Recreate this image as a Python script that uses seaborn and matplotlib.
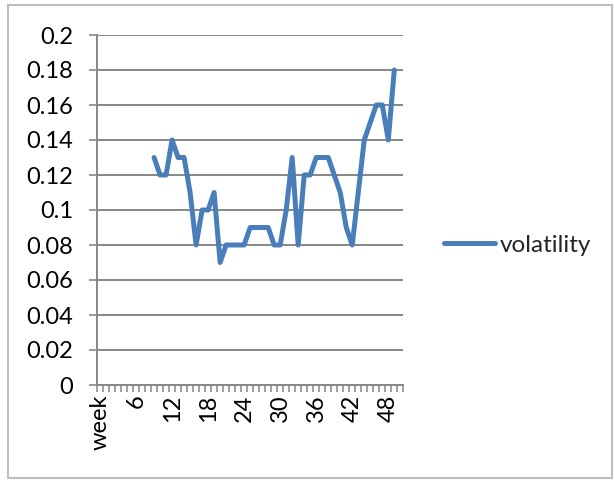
import numpy as np
import pandas as pd
import matplotlib
matplotlib.use("Agg")
import matplotlib.pyplot as plt
from matplotlib.patches import Rectangle
import seaborn as sns

# Category axis: header cell followed by week numbers 1..50
categories = ["week"] + [str(i) for i in range(1, 51)]

# Weekly volatility readings
weeks = list(range(9, 50))
volatility = [0.13, 0.12, 0.12, 0.14, 0.13, 0.13, 0.11, 0.08, 0.10, 0.10,
              0.11, 0.07, 0.08, 0.08, 0.08, 0.08, 0.09, 0.09, 0.09, 0.09,
              0.08, 0.08, 0.10, 0.13, 0.08, 0.12, 0.12, 0.13, 0.13, 0.13,
              0.12, 0.11, 0.09, 0.08, 0.11, 0.14, 0.15, 0.16, 0.16, 0.14,
              0.18]

y_ticks = [0, 0.02, 0.04, 0.06, 0.08, 0.1, 0.12, 0.14, 0.16, 0.18, 0.2]
label_every = 6
series_name = "volatility"

sns.set_theme(style="white")
plt.rcParams["font.family"] = ["Lato", "DejaVu Sans"]

line_color = "#4a7ebb"
grid_color = "#878787"
tick_size = 17

df = pd.DataFrame({
    "pos": [categories.index(str(w)) for w in weeks],
    "value": volatility,
})

fig = plt.figure(figsize=(6.14, 4.90), dpi=100)
ax = fig.add_axes([97 / 614, 1 - 385 / 490, (403.3 - 97) / 614, (385 - 35) / 490])

sns.lineplot(data=df, x="pos", y="value", ax=ax, color=line_color,
             linewidth=3.6, label=series_name, solid_joinstyle="round",
             solid_capstyle="round")

ax.set_xlim(-0.5, len(categories) - 0.5)
ax.set_ylim(0, 0.2)
ax.set_xlabel("")
ax.set_ylabel("")

# Horizontal gridlines with outward major ticks
ax.set_yticks(y_ticks)
ax.set_yticklabels([f"{v:g}" for v in y_ticks])
ax.yaxis.grid(True, color=grid_color, linewidth=1.4)
ax.xaxis.grid(False)
ax.set_axisbelow(True)
ax.tick_params(axis="y", which="major", left=True, length=6, width=1.2,
               color=grid_color, pad=11, labelsize=tick_size, labelcolor="black")

# Category axis: ticks between categories, labels every sixth category
label_pos = list(range(0, len(categories), label_every))
ax.set_xticks(label_pos)
ax.set_xticklabels([categories[i] for i in label_pos], rotation=90,
                   va="top", ha="center")
ax.set_xticks(np.arange(-0.5, len(categories), 1), minor=True)
ax.tick_params(axis="x", which="major", bottom=True, length=0, pad=7,
               labelsize=tick_size, labelcolor="black")
ax.tick_params(axis="x", which="minor", bottom=True, length=5, width=1.1,
               color=grid_color)

for side in ("top", "right"):
    ax.spines[side].set_visible(False)
for side in ("left", "bottom"):
    ax.spines[side].set_color(grid_color)
    ax.spines[side].set_linewidth(1.4)

leg = ax.legend(loc="center left", bbox_to_anchor=(1.1, 0.4), frameon=False,
                fontsize=17.5, handlelength=2.1, handletextpad=0.2,
                borderaxespad=0)
for h in leg.get_lines():
    h.set_linewidth(3.6)

# Chart-area border
fig.patches.append(Rectangle((8 / 614, 1 - 478 / 490), 604 / 614, 473 / 490,
                             transform=fig.transFigure, fill=False,
                             edgecolor="#bfbfbf", linewidth=1.5))

fig.savefig("out.png", dpi=100)
